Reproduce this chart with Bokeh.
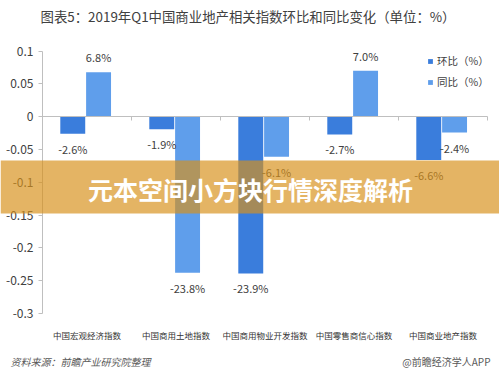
from bokeh.plotting import figure
from bokeh.models import (ColumnDataSource, Range1d, Label, LinearAxis,
                          BoxAnnotation, Legend, LegendItem, FixedTicker,
                          CustomJSTickFormatter)
from bokeh.transform import dodge
from bokeh.embed import file_html
from bokeh.resources import INLINE
from bokeh.core.properties import value

# ---- data ----
categories = ["中国宏观经济指数", "中国商用土地指数", "中国商用物业开发指数",
              "中国零售商信心指数", "中国商业地产指数"]
huanbi = [-2.6, -1.9, -23.9, -2.7, -6.6]      # 环比 (%)
tongbi = [6.8, -23.8, -6.1, 7.0, -2.4]        # 同比 (%)
series_names = ["环比（%）", "同比（%）"]
yticks = [0.1, 0.05, 0, -0.05, -0.1, -0.15, -0.2, -0.25, -0.3]
title_text = "图表5：2019年Q1中国商业地产相关指数环比和同比变化（单位：%）"
source_text = "资料来源：前瞻产业研究院整理"
brand_text = "@前瞻经济学人APP"
banner_text = "元本空间小方块行情深度解析"

FONT = "Noto Sans CJK SC"
DARK = "#3a7ddc"
LIGHT = "#5f9eeb"
TXT = "#404040"
AXIS = "#bfbfbf"
W, H = 499, 375

idx = list(range(len(categories)))
src = ColumnDataSource(dict(
    x=idx,
    hb=[v / 100 for v in huanbi],
    tb=[v / 100 for v in tongbi],
    hb_lbl=[f"{v:.1f}%" for v in huanbi],
    tb_lbl=[f"{v:.1f}%" for v in tongbi],
    hb_off=[15 if v < 0 else -15 for v in huanbi],
    tb_off=[15 if v < 0 else -15 for v in tongbi],
))

# frame covers the whole canvas; category slots are 89px wide,
# first slot starts at 42px, value axis 0.1 -> 50.7px, -0.3 -> 313px
px_per_cat = 89.0
px_per_unit = 655.75
x0_px = 86.5
p = figure(width=W, height=H, title=None,
           x_range=Range1d(-x0_px / px_per_cat, (W - x0_px) / px_per_cat),
           y_range=Range1d(yticks[-1] - (H - 313) / px_per_unit,
                           yticks[0] + 50.7 / px_per_unit),
           x_axis_location=None, y_axis_location=None,
           output_backend="svg", toolbar_location=None,
           min_border=0, min_border_left=0, min_border_right=0,
           min_border_top=0, min_border_bottom=0)
p.background_fill_color = "white"
p.border_fill_color = "white"
p.outline_line_color = None
p.grid.visible = False

lo = idx[0] - 0.5
hi = idx[-1] + 0.5

# bars
r1 = p.vbar(x=dodge("x", -0.16), top="hb", bottom=0, width=0.28,
            source=src, fill_color=DARK, line_color=None)
r2 = p.vbar(x=dodge("x", 0.13), top="tb", bottom=0, width=0.28,
            source=src, fill_color=LIGHT, line_color=None)

# value labels
p.text(x=dodge("x", -0.16), y="hb", text="hb_lbl", y_offset="hb_off",
       source=src, text_align="center", text_baseline="middle",
       text_font=value(FONT), text_font_size="11px", text_color=TXT)
p.text(x=dodge("x", 0.13), y="tb", text="tb_lbl", y_offset="tb_off",
       source=src, text_align="center", text_baseline="middle",
       text_font=value(FONT), text_font_size="11px", text_color=TXT)

# value axis
yax = LinearAxis(fixed_location=lo, bounds=(yticks[-1], yticks[0]),
                 ticker=FixedTicker(ticks=yticks))
yax.formatter = CustomJSTickFormatter(code="""
let s = tick.toFixed(2);
s = s.replace(/0+$/, '').replace(/\\.$/, '');
if (s == '-0') { s = '0'; }
return s;
""")
yax.axis_line_color = AXIS
yax.major_tick_line_color = AXIS
yax.major_tick_out = 4
yax.major_tick_in = 0
yax.minor_tick_line_color = None
yax.major_label_standoff = 5
yax.major_label_text_font = FONT
yax.major_label_text_font_size = "12px"
yax.major_label_text_color = TXT
p.add_layout(yax, "left")

# zero line with category boundary ticks
zax = LinearAxis(fixed_location=0, bounds=(lo, hi),
                 ticker=FixedTicker(ticks=[i + 0.5 for i in idx]))
zax.axis_line_color = AXIS
zax.major_tick_line_color = AXIS
zax.major_tick_out = 4
zax.major_tick_in = 0
zax.minor_tick_line_color = None
zax.major_label_text_color = None
zax.major_label_text_font_size = "1px"
p.add_layout(zax, "below")

# category labels axis at the bottom
cax = LinearAxis(fixed_location=yticks[-1], ticker=FixedTicker(ticks=idx),
                 major_label_overrides={i: c for i, c in zip(idx, categories)})
cax.axis_line_color = None
cax.major_tick_line_color = None
cax.minor_tick_line_color = None
cax.major_label_standoff = 9
cax.major_label_text_font = FONT
cax.major_label_text_font_size = "8.5px"
cax.major_label_text_color = "#333333"
p.add_layout(cax, "below")

# legend
legend = Legend(items=[LegendItem(label=series_names[0], renderers=[r1]),
                       LegendItem(label=series_names[1], renderers=[r2])],
                location=(427, 286), orientation="vertical",
                glyph_width=6, glyph_height=6, label_height=12,
                label_standoff=4, spacing=6, padding=0, margin=0,
                border_line_color=None, background_fill_alpha=0,
                label_text_font=FONT, label_text_font_size="10.5px",
                label_text_color=TXT)
p.add_layout(legend)

# title and footer
p.add_layout(Label(x=40, y=H - 15, x_units="screen", y_units="screen",
                   text=title_text, text_font=FONT, text_font_size="13.4px",
                   text_baseline="middle", text_color=TXT))
p.add_layout(Label(x=10, y=H - 361, x_units="screen", y_units="screen",
                   text=source_text, text_font=FONT, text_font_size="10px",
                   text_font_style="italic", text_baseline="middle",
                   text_color="#595959"))
p.add_layout(Label(x=490, y=H - 361, x_units="screen", y_units="screen",
                   text=brand_text, text_font=FONT, text_font_size="10px",
                   text_align="right", text_baseline="middle",
                   text_color="#595959"))

# banner overlay
p.add_layout(BoxAnnotation(left=0, right=W, bottom=H - 213, top=H - 160,
                           left_units="screen", right_units="screen",
                           bottom_units="screen", top_units="screen",
                           fill_color="#d7911a", fill_alpha=0.68,
                           line_color=None))
p.add_layout(Label(x=250, y=H - 188, x_units="screen", y_units="screen",
                   text=banner_text, text_font=FONT, text_font_size="25px",
                   text_font_style="bold", text_align="center",
                   text_baseline="middle", text_color="white"))

open("out.html", "w").write(file_html(p, INLINE))
